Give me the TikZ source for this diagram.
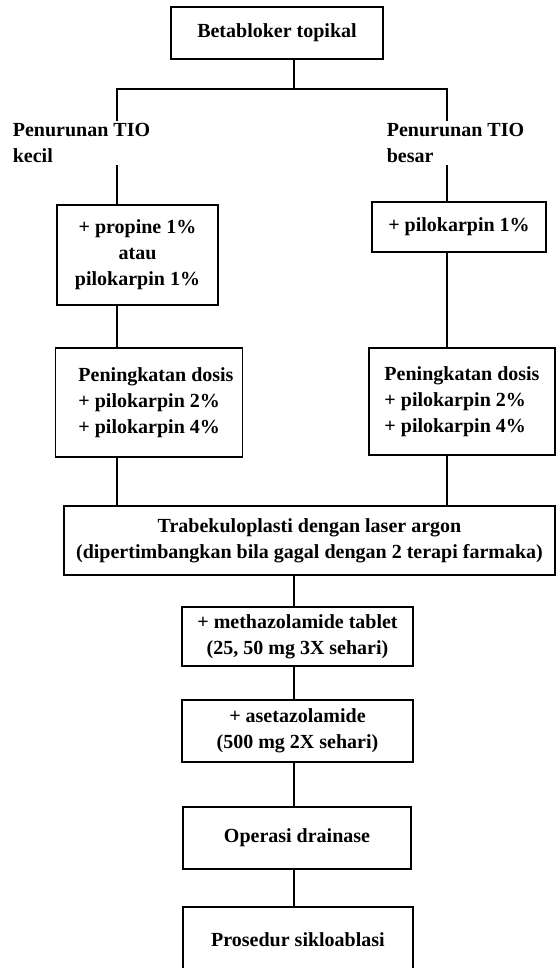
\documentclass[tikz,border=0pt]{standalone}
\usepackage{fontspec}
\setmainfont{Liberation Serif}

\begin{document}
\begin{tikzpicture}[x=1pt,y=-1pt,line width=1.7pt,
  font=\fontsize{20}{26}\selectfont\bfseries,
  box/.style={draw=black,inner sep=2pt,align=center},
  branch/.style={fill=white,inner sep=2pt,align=left,anchor=west}]
\useasboundingbox (0,0) rectangle (557,968);
\clip (0,0) rectangle (557,968);

\coordinate (fork) at (294,89);
\coordinate (colL) at (117,0);
\coordinate (colR) at (447,0);

\node[box,minimum width=212,minimum height=52] (beta) at (277,33) {Betabloker topikal};

\node[box,minimum width=161,minimum height=100] (propL) at (137.5,255) {+ propine 1\%\\atau\\pilokarpin 1\%};
\node[box,minimum width=174,minimum height=50] (piloR) at (459,227) {+ pilokarpin 1\%};

\node[box,inner xsep=0pt,minimum width=186,minimum height=109] (doseL) at (149,402.5) {\begin{tabular}{@{\hspace{23pt}}l@{\hspace{9pt}}}Peningkatan dosis\\+ pilokarpin 2\%\\+ pilokarpin 4\%\end{tabular}};
\node[box,align=left,minimum width=186,minimum height=107] (doseR) at (462,401.5) {Peningkatan dosis\\+ pilokarpin 2\%\\+ pilokarpin 4\%};

\node[box,minimum width=491,minimum height=69] (trab) at (309.5,540.5) {Trabekuloplasti dengan laser argon\\(dipertimbangkan bila gagal dengan 2 terapi farmaka)};
\node[box,minimum width=231,minimum height=59] (metha) at (297.5,636.5) {+ methazolamide tablet\\(25, 50 mg 3X sehari)};
\node[box,minimum width=231,minimum height=62] (aset) at (297.5,731) {+ asetazolamide\\(500 mg 2X sehari)};
\node[box,minimum width=228,minimum height=62] (oper) at (297,838) {Operasi drainase};
\node[box,minimum width=230,minimum height=66] (sik) at (298,940) {Prosedur sikloablasi};

\draw (beta.south -| fork) -- (fork);
\draw (propL.north -| colL) |- (fork) -| (piloR.north -| colR);
\draw (propL.south -| colL) -- (doseL.north -| colL);
\draw (piloR.south -| colR) -- (doseR.north -| colR);
\draw (doseL.south -| colL) -- (trab.north -| colL);
\draw (doseR.south -| colR) -- (trab.north -| colR);
\draw (trab.south -| fork) -- (metha.north -| fork);
\draw (metha.south -| fork) -- (aset.north -| fork);
\draw (aset.south -| fork) -- (oper.north -| fork);
\draw (oper.south -| fork) -- (sik.north -| fork);

\node[branch] (kecil) at (10,143) {Penurunan TIO\\kecil};
\node[branch] (besar) at (384,143) {Penurunan TIO\\besar};

\end{tikzpicture}
\end{document}
